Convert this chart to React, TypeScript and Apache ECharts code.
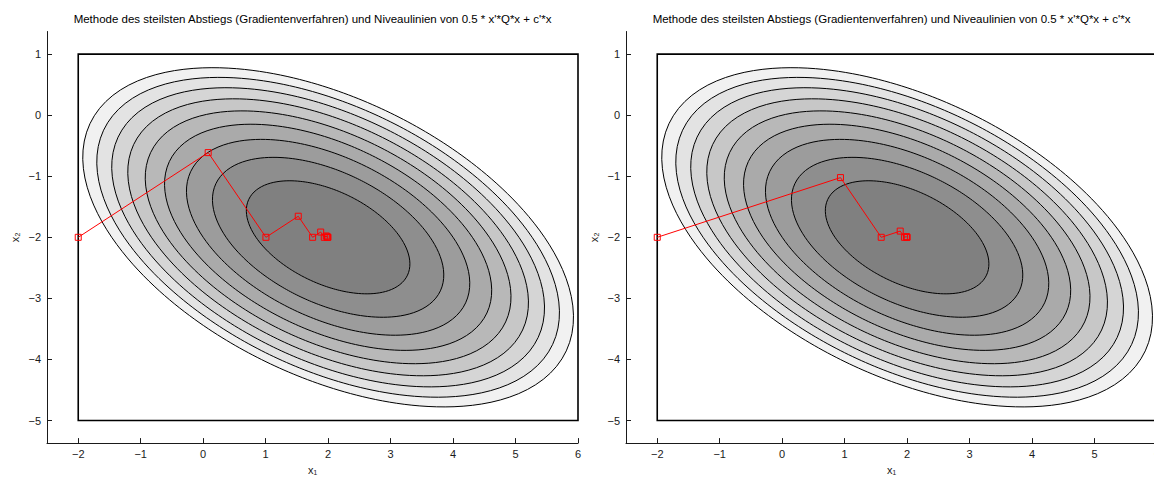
import React, { useEffect, useRef } from "react";
import * as echarts from "echarts";

const TITLE = "Methode des steilsten Abstiegs (Gradientenverfahren) und Niveaulinien von 0.5 * x'*Q*x + c'*x";

// quadratic 0.5 * x'Qx + c'x
const Q = [
  [3, 2],
  [2, 6],
];
const C = [-2, 8];

// contour levels (outermost first) and fill colour of the region inside each level
const LEVELS = [8, 6, 4, 2, 0, -2, -4, -6, -8];
const BAND_COLORS = ["#f1f1f1", "#e3e3e3", "#d5d5d5", "#c7c7c7", "#b8b8b8", "#aaaaaa", "#9c9c9c", "#8e8e8e", "#808080"];

// grid domain of the contour plot
const DOMAIN = [[-2, 1, 6, -5]];

// axis ranges and tick labels
const X_RANGE = [-2.5, 6];
const Y_RANGE = [-5.37, 1.37];
const X_TICKS = [-2, -1, 0, 1, 2, 3, 4, 5, 6];
const Y_TICKS = [-5, -4, -3, -2, -1, 0, 1];

// iterates: steepest descent (left) and scaled steepest descent (right)
const LEFT_X1 = [-2, 0.08, 1.0044, 1.5221, 1.7522, 1.8811, 1.9383, 1.9704, 1.9847, 1.9926, 1.9962];
const LEFT_X2 = [-2, -0.6133, -2, -1.6549, -2, -1.9141, -2, -1.9786, -2, -1.9947, -2];
const RIGHT_X1 = [-2, 0.9333, 1.5852, 1.8894, 1.957, 1.9885, 1.9955, 1.9988];
const RIGHT_X2 = [-2, -1.0222, -2, -1.8986, -2, -1.9895, -2, -1.9989];

const FONT = "'Liberation Sans', Arial, Helvetica, sans-serif";
const INK = "#1a1a1a";

const GRIDS = [
  { left: 47, top: 31.5, width: 531, height: 420 },
  { left: 626, top: 31.5, width: 531, height: 420 },
];

function ellipseRender(params: any, api: any) {
  const L = api.value(0);
  const idx = params.dataIndex;
  const det = Q[0][0] * Q[1][1] - Q[0][1] * Q[1][0];
  const mx = -(Q[1][1] * C[0] - Q[0][1] * C[1]) / det;
  const my = -(-Q[1][0] * C[0] + Q[0][0] * C[1]) / det;
  const fmin = 0.5 * (C[0] * mx + C[1] * my);
  const pts: number[][] = [];
  const N = 180;
  for (let k = 0; k < N; k++) {
    const th = (2 * Math.PI * k) / N;
    const ux = Math.cos(th);
    const uy = Math.sin(th);
    const quad = Q[0][0] * ux * ux + (Q[0][1] + Q[1][0]) * ux * uy + Q[1][1] * uy * uy;
    const r = Math.sqrt((2 * (L - fmin)) / quad);
    pts.push(api.coord([mx + r * ux, my + r * uy]));
  }
  return {
    type: "polygon",
    shape: { points: pts },
    style: { fill: BAND_COLORS[idx], stroke: "#000", lineWidth: 1 },
  };
}

function rectRender(_params: any, api: any) {
  const p1 = api.coord([api.value(0), api.value(1)]);
  const p2 = api.coord([api.value(2), api.value(3)]);
  return {
    type: "rect",
    shape: { x: p1[0], y: p1[1], width: p2[0] - p1[0], height: p2[1] - p1[1] },
    style: { fill: "#fff", stroke: "#000", lineWidth: 1.6 },
  };
}

function axisPair(i: number) {
  const common = {
    gridIndex: i,
    type: "value" as const,
    splitLine: { show: false },
    axisLine: { show: true, onZero: false, lineStyle: { color: INK, width: 1 } },
    axisTick: { show: true, inside: true, length: 5, lineStyle: { color: INK } },
  };
  const fmt = (v: number) => (v < 0 ? "\u2212" + Math.abs(v) : String(v));
  const x = {
    ...common,
    min: X_RANGE[0],
    max: X_RANGE[1],
    position: "bottom",
    axisTick: { ...common.axisTick, customValues: X_TICKS },
    axisLabel: { customValues: X_TICKS, margin: 5, fontSize: 11, color: INK, fontFamily: FONT, formatter: fmt },
    name: "x\u2081",
    nameLocation: "middle",
    nameGap: 16,
    nameTextStyle: { fontSize: 11, color: INK, fontFamily: FONT },
  };
  const y = {
    ...common,
    min: Y_RANGE[0],
    max: Y_RANGE[1],
    position: "left",
    axisTick: { ...common.axisTick, customValues: Y_TICKS },
    axisLabel: { customValues: Y_TICKS, margin: 6, fontSize: 11, color: INK, fontFamily: FONT, formatter: fmt },
    name: "x\u2082",
    nameLocation: "middle",
    nameGap: 27,
    nameTextStyle: { fontSize: 11, color: INK, fontFamily: FONT },
  };
  return { x, y };
}

function seriesFor(i: number, xs: number[], ys: number[]) {
  return [
    {
      type: "custom",
      xAxisIndex: i,
      yAxisIndex: i,
      renderItem: rectRender,
      encode: { x: [0, 2], y: [1, 3] },
      data: DOMAIN,
      silent: true,
    },
    {
      type: "custom",
      xAxisIndex: i,
      yAxisIndex: i,
      renderItem: ellipseRender,
      encode: { x: 0, y: 0 },
      data: LEVELS.map((l) => [l]),
      silent: true,
    },
    {
      type: "line",
      xAxisIndex: i,
      yAxisIndex: i,
      data: xs.map((x, k) => [x, ys[k]]),
      symbol: "rect",
      symbolSize: 6,
      showAllSymbol: true,
      lineStyle: { color: "#ff0000", width: 1 },
      itemStyle: { color: "rgba(0,0,0,0)", borderColor: "#ff0000", borderWidth: 1 },
      z: 5,
    },
  ];
}

export default function App() {
  const ref = useRef<HTMLDivElement>(null);
  useEffect(() => {
    if (!ref.current) return;
    const chart = echarts.init(ref.current, undefined, { renderer: "svg" });
    const a0 = axisPair(0);
    const a1 = axisPair(1);
    chart.setOption({
      animation: false,
      backgroundColor: "#fff",
      textStyle: { fontFamily: FONT },
      grid: GRIDS,
      xAxis: [a0.x, a1.x],
      yAxis: [a0.y, a1.y],
      graphic: GRIDS.map((g) => ({
        type: "text",
        x: g.left + g.width / 2,
        y: 19,
        silent: true,
        style: {
          text: TITLE,
          textAlign: "center",
          textVerticalAlign: "middle",
          fontSize: 11.5,
          fontFamily: FONT,
          fill: "#000",
        },
      })),
      series: [...seriesFor(0, LEFT_X1, LEFT_X2), ...seriesFor(1, RIGHT_X1, RIGHT_X2)],
    });
    return () => chart.dispose();
  }, []);
  return (
    <div style={{ position: "fixed", left: 0, top: 0, width: 1154, height: 480, overflow: "hidden", background: "#fff" }}>
      <div ref={ref} style={{ position: "absolute", left: 0, top: 0, width: 1180, height: 480 }} />
    </div>
  );
}
